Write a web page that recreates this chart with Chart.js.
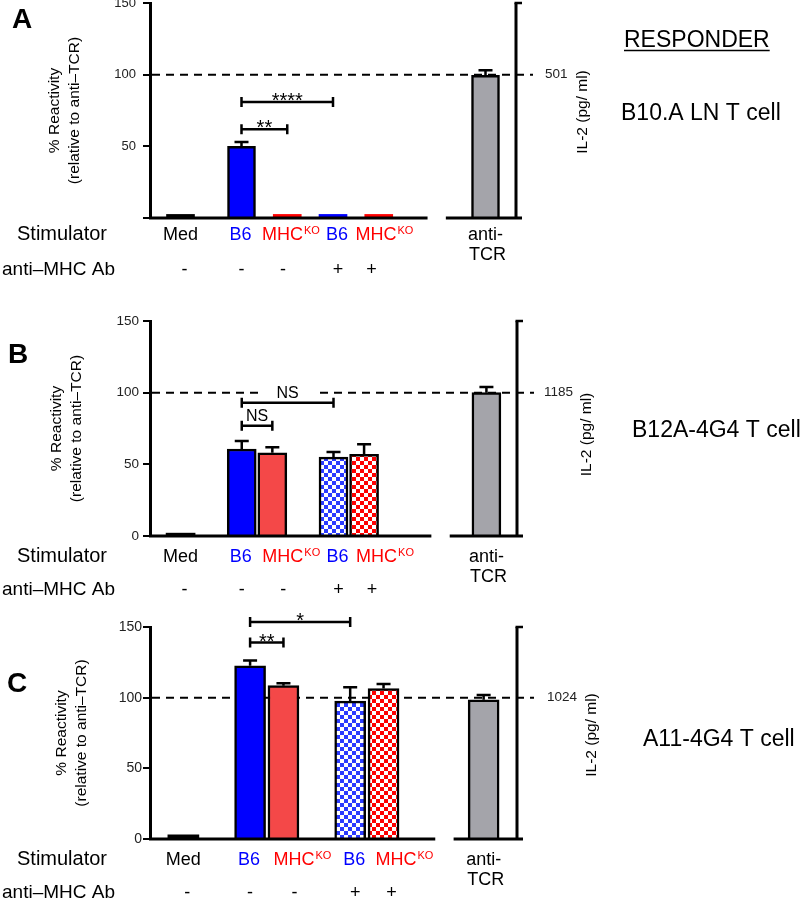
<!DOCTYPE html>
<html>
<head>
<meta charset="utf-8">
<script src="https://cdn.jsdelivr.net/npm/chart.js@4.4.1/dist/chart.umd.min.js"></script>
<style>
  html, body { margin: 0; padding: 0; background: #fff; }
  body { width: 800px; height: 900px; position: relative; overflow: hidden; }
  canvas { position: absolute; left: 0; }
</style>
</head>
<body>
<canvas id="chartA" width="800" height="300"></canvas>
<canvas id="chartB" width="800" height="300"></canvas>
<canvas id="chartC" width="800" height="300"></canvas>
<script>
const FONT = "'Liberation Sans', Arial, Helvetica, sans-serif";

// shared categories
const stimulators = ['Med', 'B6', 'MHCKO', 'B6', 'MHCKO', 'anti-TCR'];
const antiMhcAb = ['-', '-', '-', '+', '+', ''];
const yTickValues = [0, 50, 100, 150];

// A: B10.A LN T cell
const reactivityA = [2.5, 50, 2.5, 2.5, 2.5, 99.5];
const errorA = [0, 3, 0, 0, 0, 3.5];
const yTickLabelsA = ['', '50', '100', '150'];
const il2A = '501';
const sigA = [
    { from: 1, to: 2, level: 62, text: '**' },
    { from: 1, to: 3, level: 81, text: '****' }
];

// B: B12A-4G4 T cell
const reactivityB = [2, 60.7, 58, 55, 57, 100];
const errorB = [0, 5.5, 4, 3.6, 7, 4];
const yTickLabelsB = ['0', '50', '100', '150'];
const il2B = '1185';
const sigB = [
    { from: 1, to: 2, level: 77, text: 'NS' },
    { from: 1, to: 3, level: 93, text: 'NS' }
];

// C: A11-4G4 T cell
const reactivityC = [3, 122.5, 108.5, 97.6, 106.5, 98.5];
const errorC = [0, 3.8, 1.7, 9.8, 3.1, 3.4];
const yTickLabelsC = ['0', '50', '100', '150'];
const il2C = '1024';
const sigC = [
    { from: 1, to: 2, level: 139, text: '**' },
    { from: 1, to: 3, level: 153.5, text: '*' }
];

// styles
const solidFill = ['#000000', '#0000ff', '#f44848', '#2b3bff', '#ff0000', '#a4a4aa'];
const checkered = [false, false, false, true, true, false];
const labelColor = ['#000', '#0000ff', '#ff0000', '#0000ff', '#ff0000', '#000'];
const labelDx = [0, -1, -10, 4, -8, 0];
const signDx = [4, 0, 11, 5, 8, 0];

function checker(color) {
    const c = document.createElement('canvas');
    c.width = 8; c.height = 8;
    const g = c.getContext('2d');
    g.fillStyle = '#fff'; g.fillRect(0, 0, 8, 8);
    g.fillStyle = color; g.fillRect(0, 0, 4, 4); g.fillRect(4, 4, 4, 4);
    return g.createPattern(c, 'repeat');
}

const panels = [
    { id: 'chartA', values: reactivityA, errors: errorA, ticks: yTickLabelsA, il2: il2A, sig: sigA,
      top: 3, bottom: 218, right: 516, slots: 25, barAt: [2, 6, 9, 12, 15, 22],
      labelSlots: 13, labelAt: [1, 3, 4, 6, 7, 11], gap: [9.1, 9.7], barWidth: 28,
      titleX: 55, tickPad: 7, tickFont: 13, stimDy: 22, abDy: 57, il2Dx: 67, il2Dy: 1.5, il2NumDx: 29,
      letter: ['A', 12, 28], cell: ['B10.A LN T cell', 621, 120], responder: true },
    { id: 'chartB', values: reactivityB, errors: errorB, ticks: yTickLabelsB, il2: il2B, sig: sigB,
      top: 321, bottom: 536, right: 517, slots: 13, barAt: [1, 3, 4, 6, 7, 11],
      gap: [9.2, 9.8], barWidth: 29,
      titleX: 57, tickPad: 4, tickFont: 13.5, stimDy: 26, abDy: 59, il2Dx: 70, il2Dy: 6, il2NumDx: 27,
      letter: ['B', 8, 363], cell: ['B12A-4G4 T cell', 632, 437] },
    { id: 'chartC', values: reactivityC, errors: errorC, ticks: yTickLabelsC, il2: il2C, sig: sigC,
      top: 627, bottom: 839, right: 517, slots: 12, barAt: [1, 3, 4, 6, 7, 10],
      gap: [8.55, 9.1], barWidth: 31,
      titleX: 62, tickPad: 1, tickFont: 14, stimDy: 26, abDy: 59, il2Dx: 75, il2Dy: 2, il2NumDx: 30,
      letter: ['C', 7, 692], cell: ['A11-4G4 T cell', 643, 746] }
];

function drawDashed(chart) {
    const ctx = chart.ctx, a = chart.chartArea;
    const yy = chart.scales.y.getPixelForValue(100);
    ctx.save();
    ctx.strokeStyle = '#000';
    ctx.lineWidth = 2;
    ctx.setLineDash([8, 6]);
    ctx.beginPath();
    ctx.moveTo(a.left + 2, yy);
    ctx.lineTo(a.right + 17, yy);
    ctx.stroke();
    ctx.restore();
}

function drawOverlay(chart, p, canvasTop) {
    const ctx = chart.ctx, a = chart.chartArea, y = chart.scales.y;
    const meta = chart.getDatasetMeta(0);
    const lx = p.labelSlots ? chart.scales.xl : chart.scales.x;
    const at = p.labelAt || p.barAt;
    ctx.save();
    ctx.strokeStyle = '#000';

    // error bars (upper only)
    ctx.lineWidth = 2.5;
    p.barAt.forEach((s, g) => {
        const e = p.errors[g];
        if (!e) return;
        const x = meta.data[s].x;
        const y0 = y.getPixelForValue(p.values[g]);
        const y1 = y.getPixelForValue(p.values[g] + e);
        ctx.beginPath();
        ctx.moveTo(x, y0); ctx.lineTo(x, y1);
        ctx.moveTo(x - 7, y1); ctx.lineTo(x + 7, y1);
        ctx.stroke();
    });

    // broken baseline + right axis
    const y0 = y.getPixelForValue(0);
    ctx.lineWidth = 3;
    ctx.beginPath();
    ctx.moveTo(a.left - 1, y0); ctx.lineTo(lx.getPixelForValue(p.gap[0]), y0);
    ctx.moveTo(lx.getPixelForValue(p.gap[1]), y0); ctx.lineTo(a.right + 6, y0);
    ctx.moveTo(a.right, a.top); ctx.lineTo(a.right, y0);
    ctx.stroke();
    ctx.lineWidth = 2.5;
    ctx.beginPath();
    ctx.moveTo(a.right - 1.5, a.top); ctx.lineTo(a.right + 6, a.top);
    ctx.stroke();

    // significance brackets
    const dashY = y.getPixelForValue(100);
    p.sig.forEach(b => {
        const x1 = meta.data[p.barAt[b.from]].x;
        const x2 = meta.data[p.barAt[b.to]].x;
        const yb = y.getPixelForValue(b.level);
        ctx.lineWidth = 2.5;
        ctx.beginPath();
        ctx.moveTo(x1, yb); ctx.lineTo(x2, yb);
        ctx.moveTo(x1, yb - 5); ctx.lineTo(x1, yb + 5);
        ctx.moveTo(x2, yb - 5); ctx.lineTo(x2, yb + 5);
        ctx.stroke();
        const stars = b.text[0] === '*';
        ctx.font = (stars ? 20 : 16) + 'px ' + FONT;
        ctx.textAlign = 'center';
        ctx.textBaseline = 'alphabetic';
        const tx = (x1 + x2) / 2, ty = stars ? yb + 5 : yb - 5;
        if (!stars && dashY > ty - 14 && dashY < ty + 3) {
            const w = ctx.measureText(b.text).width + 34;
            ctx.fillStyle = '#fff';
            ctx.fillRect(tx - w / 2, dashY - 3, w, 6);
        }
        ctx.fillStyle = '#000';
        ctx.fillText(b.text, tx, ty);
    });

    // stimulator / antibody rows
    const rowY = a.bottom + p.stimDy, abY = a.bottom + p.abDy;
    ctx.textBaseline = 'alphabetic';
    ctx.textAlign = 'left';
    ctx.fillStyle = '#000';
    ctx.font = '20px ' + FONT;
    ctx.fillText('Stimulator', 17, rowY);
    ctx.font = '19px ' + FONT;
    ctx.fillText('anti\u2013MHC Ab', 2, abY);
    stimulators.forEach((name, g) => {
        const cx = lx.getPixelForValue(at[g]);
        ctx.fillStyle = labelColor[g];
        ctx.font = '18px ' + FONT;
        if (name === 'MHCKO') {
            ctx.textAlign = 'left';
            ctx.fillText('MHC', cx + labelDx[g], rowY);
            const w = ctx.measureText('MHC').width;
            ctx.font = '11px ' + FONT;
            ctx.fillText('KO', cx + labelDx[g] + w + 1, rowY - 6);
        } else if (name.startsWith('anti-')) {
            ctx.textAlign = 'center';
            ctx.fillText('anti-', cx, rowY);
            ctx.fillText(name.slice(5), cx + 2, rowY + 20);
        } else {
            ctx.textAlign = 'center';
            ctx.fillText(name, cx + labelDx[g], rowY);
        }
        if (antiMhcAb[g]) {
            ctx.fillStyle = '#000';
            ctx.font = '18px ' + FONT;
            ctx.textAlign = 'center';
            ctx.fillText(antiMhcAb[g], cx + signDx[g], abY);
        }
    });

    // right axis texts
    ctx.fillStyle = '#222';
    ctx.font = '13.5px ' + FONT;
    ctx.textAlign = 'left';
    ctx.textBaseline = 'middle';
    ctx.fillText(p.il2, a.right + p.il2NumDx, dashY);
    ctx.save();
    ctx.translate(a.right + p.il2Dx, (a.top + a.bottom) / 2 + p.il2Dy);
    ctx.rotate(-Math.PI / 2);
    ctx.font = '15.5px ' + FONT;
    ctx.textAlign = 'center';
    ctx.fillStyle = '#000';
    ctx.fillText('IL-2 (pg/ ml)', 0, 0);
    ctx.restore();

    // panel letter, responder name
    ctx.textBaseline = 'alphabetic';
    ctx.textAlign = 'left';
    ctx.fillStyle = '#000';
    ctx.font = 'bold 28px ' + FONT;
    ctx.fillText(p.letter[0], p.letter[1], p.letter[2] - canvasTop);
    ctx.font = '23px ' + FONT;
    ctx.fillText(p.cell[0], p.cell[1], p.cell[2] - canvasTop);
    if (p.responder) {
        const ry = 47 - canvasTop;
        ctx.fillText('RESPONDER', 624, ry);
        const w = ctx.measureText('RESPONDER').width;
        ctx.lineWidth = 1.5;
        ctx.beginPath();
        ctx.moveTo(624, ry + 3.5); ctx.lineTo(624 + w, ry + 3.5);
        ctx.stroke();
    }
    ctx.restore();
}

function makePanel(p) {
    const canvas = document.getElementById(p.id);
    const canvasTop = p.top - 20;
    canvas.style.top = canvasTop + 'px';

    const n = p.slots;
    const cats = Array(n).fill('');
    const vals = Array(n).fill(null);
    const bg = Array(n).fill('#fff');
    const bd = Array(n).fill('#000');
    p.barAt.forEach((s, g) => {
        cats[s] = stimulators[g];
        vals[s] = p.values[g];
        if (p.values[g] < 5) {
            bg[s] = g === 0 ? '#000' : labelColor[g];
            bd[s] = bg[s];
        } else {
            bg[s] = checkered[g] ? checker(solidFill[g]) : solidFill[g];
        }
    });

    const scales = {
        x: { type: 'category', offset: false, display: false },
        y: {
            min: 0, max: 150,
            afterBuildTicks: s => { s.ticks = yTickValues.map(v => ({ value: v })); },
            afterFit: s => { s.width = 150; },
            ticks: {
                callback: (v, i) => p.ticks[i],
                color: '#222',
                padding: p.tickPad,
                font: { family: FONT, size: p.tickFont }
            },
            grid: { drawOnChartArea: false, drawTicks: true, tickLength: 7, color: '#000', lineWidth: 2 },
            border: { display: true, color: '#000', width: 3 },
            title: {
                display: true,
                text: ['% Reactivity', '(relative to anti\u2013TCR)'],
                color: '#000',
                font: { family: FONT, size: 15.5, lineHeight: 1.29 },
                padding: { top: p.titleX - 10, bottom: 0 }
            }
        }
    };
    if (p.labelSlots) {
        scales.xl = {
            type: 'category', offset: false, display: false,
            labels: Array.from({ length: p.labelSlots }, (_, i) => 'l' + i)
        };
    }

    return new Chart(canvas, {
        type: 'bar',
        data: {
            labels: cats,
            datasets: [{
                data: vals,
                backgroundColor: bg,
                borderColor: bd,
                borderWidth: 0,
                barThickness: p.barWidth
            }, ].map(d => Object.assign(d, {
                borderWidth: vals.map(v => (v !== null && v < 5) ? 0 : 2.5)
            }))
        },
        options: {
            responsive: false,
            animation: false,
            devicePixelRatio: 1,
            layout: { padding: { top: 20, left: 0, right: 800 - p.right, bottom: 300 - (p.bottom - canvasTop) } },
            scales: scales,
            plugins: { legend: { display: false }, tooltip: { enabled: false } }
        },
        plugins: [{
            id: 'figure',
            beforeDatasetsDraw: chart => drawDashed(chart),
            afterDraw: chart => drawOverlay(chart, p, canvasTop)
        }]
    });
}

panels.forEach(makePanel);
</script>
</body>
</html>
